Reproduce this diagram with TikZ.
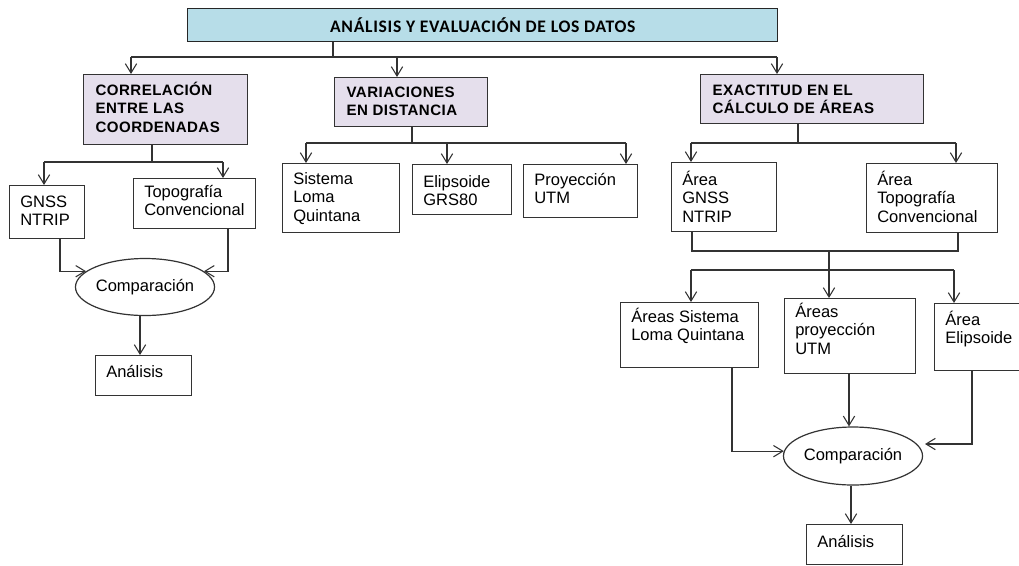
\documentclass[tikz,border=0pt]{standalone}
\usepackage{fontspec}
\setmainfont{Liberation Sans}
\newfontfamily\titlefont[LetterSpace=4]{Carlito}
\newfontfamily\headfont[LetterSpace=3]{Liberation Sans}
\usetikzlibrary{arrows.meta,shapes.geometric}
\definecolor{titleblue}{HTML}{B7DDE8}
\definecolor{lav}{HTML}{E5DFEC}
\definecolor{lc}{HTML}{333333}
\def\bpad{8pt}
\newcommand\mybox[8]{%
  \node[#2, anchor=north west, inner sep=0pt] (#1) at (#3,#4)
   {\begin{minipage}[t][\dimexpr 3pt*(#6-#4)/4\relax][t]{\dimexpr 3pt*(#5-#3)/4\relax}%
     \raggedright\leftskip=\bpad\relax\hbox{}\vspace*{\dimexpr 3pt*#7/4-\baselineskip\relax}#8\end{minipage}};}
\tikzset{
  line/.style={draw=lc, line width=0.9pt},
  arr/.style={line, -{Straight Barb[length=7pt,width=8.5pt,line width=0.8pt]}},
  box/.style={draw=lc, line width=0.9pt, fill=white, font=\fontsize{12.4}{13.7}\selectfont},
  hbox/.style={box, fill=lav, font=\headfont\bfseries\fontsize{11.3}{13.7}\selectfont},
  titlebox/.style={draw=black!85, line width=1.1pt, fill=titleblue, inner sep=0pt, font=\titlefont\bfseries\fontsize{13.2}{14}\selectfont},
  ell/.style={ellipse, draw=lc, line width=0.9pt, fill=white, inner sep=0pt, font=\fontsize{12.4}{13.7}\selectfont}
}
\begin{document}
\begin{tikzpicture}[x=0.75pt,y=-0.75pt]
\clip (0,0) rectangle (1019,565);
\fill[white] (0,0) rectangle (1019,565);
% title
\node[titlebox, anchor=north west, minimum width=442.5pt, minimum height=24.75pt] (title) at (187,8) {ANÁLISIS Y EVALUACIÓN DE LOS DATOS};
% headers
\def\bpad{9pt}
\mybox{corr}{hbox}{83}{74}{247}{144}{21}{CORRELACIÓN\\ENTRE LAS\\COORDENADAS}
\mybox{var}{hbox}{334}{77}{487}{126}{20}{VARIACIONES\\EN DISTANCIA}
\mybox{exa}{hbox}{700}{74}{923}{123}{21}{EXACTITUD EN EL\\CÁLCULO DE ÁREAS}
\def\bpad{8pt}
% leaves
\mybox{gnss}{box}{9}{185}{84}{238}{22}{GNSS\\NTRIP}
\mybox{topo}{box}{133}{178}{255}{228}{19}{Topografía\\Convencional}
\mybox{sis}{box}{282}{163}{399}{232}{21}{Sistema\\Loma\\Quintana}
\mybox{eli}{box}{412}{164}{511}{214}{23}{Elipsoide\\GRS80}
\mybox{pro}{box}{523}{164}{637}{217}{21}{Proyección\\UTM}
\mybox{ag}{box}{671}{162}{776}{231}{23}{Área\\GNSS\\NTRIP}
\mybox{at}{box}{866}{163}{997}{232}{22}{Área\\Topografía\\Convencional}
\mybox{as}{box}{620}{302}{758}{367}{20}{Áreas Sistema\\Loma Quintana}
\mybox{ap}{box}{784}{298}{915}{373}{19}{Áreas\\proyección\\UTM}
\mybox{ae}{box}{934}{303}{1025}{370}{22}{Área\\Elipsoide}
\mybox{an1}{box}{95}{355}{191}{395}{22}{Análisis}
\mybox{an2}{box}{806}{524}{902}{564}{23}{Análisis}
\node[ell, minimum width=93pt, minimum height=42.75pt] (cmp1) at (145,287) {Comparación};
\node[ell, minimum width=92.25pt, minimum height=43.5pt] (cmp2) at (853,456) {Comparación};
% level 1
\coordinate (t0) at (333,57);
\coordinate (b1) at (131,57); \coordinate (b2) at (397,57); \coordinate (b3) at (777,57);
\draw[line] (title.south -| t0) -- (t0);
\draw[line] (b1) -- (b3);
\draw[arr] (b1) -- (b1 |- corr.north);
\draw[arr] (b2) -- (b2 |- var.north);
\draw[arr] (b3) -- (b3 |- exa.north);
% left group
\coordinate (c0) at (152,162); \coordinate (c1) at (44,162); \coordinate (c2) at (223,162);
\draw[line] (corr.south -| c0) -- (c0);
\draw[line] (c1) -- (c2);
\draw[arr] (c1) -- (c1 |- gnss.north);
\draw[arr] (c2) -- (c2 |- topo.north);
\coordinate (g1) at (60,273); \coordinate (g2) at (228,273); \coordinate (g3) at (140,0);
\draw[arr] (gnss.south -| g1) |- (cmp1.165);
\draw[arr] (topo.south -| g2) |- (cmp1.15);
\draw[arr] (cmp1.south -| g3) -- (an1.north -| g3);
% middle group
\coordinate (v0) at (412,143); \coordinate (v1) at (306,143); \coordinate (v2) at (447,143); \coordinate (v3) at (626,143);
\draw[line] (var.south -| v0) -- (v0);
\draw[line] (v1) -- (v3);
\draw[arr] (v1) -- (v1 |- sis.north);
\draw[arr] (v2) -- (v2 |- eli.north);
\draw[arr] (v3) -- (v3 |- pro.north);
% right group
\coordinate (e0) at (798,143); \coordinate (e1) at (691,143); \coordinate (e2) at (956,143);
\draw[line] (exa.south -| e0) -- (e0);
\draw[line] (e1) -- (e2);
\draw[arr] (e1) -- (e1 |- ag.north);
\draw[arr] (e2) -- (e2 |- at.north);
\coordinate (f1) at (692,251); \coordinate (f2) at (958,251); \coordinate (f0) at (829,251);
\coordinate (f3) at (829,270); \coordinate (f4) at (691,270); \coordinate (f5) at (954,270);
\draw[line] (ag.south -| f1) -- (f1) -- (f2) -- (at.south -| f2);
\draw[line] (f0) -- (f3);
\draw[line] (f4) -- (f5);
\draw[arr] (f4) -- (f4 |- as.north);
\draw[arr] (f3) -- (f3 |- ap.north);
\draw[arr] (f5) -- (f5 |- ae.north);
\coordinate (k1) at (732,0); \coordinate (k2) at (849,0); \coordinate (k3) at (972,444);
\coordinate (k4) at (925,444); \coordinate (k5) at (851,0);
\draw[arr] (as.south -| k1) |- (cmp2.176);
\draw[arr] (ap.south -| k2) -- (k2 |- cmp2.north);
\draw[arr] (ae.south -| k3) |- (k4);
\draw[arr] (cmp2.south -| k5) -- (an2.north -| k5);
\end{tikzpicture}
\end{document}
